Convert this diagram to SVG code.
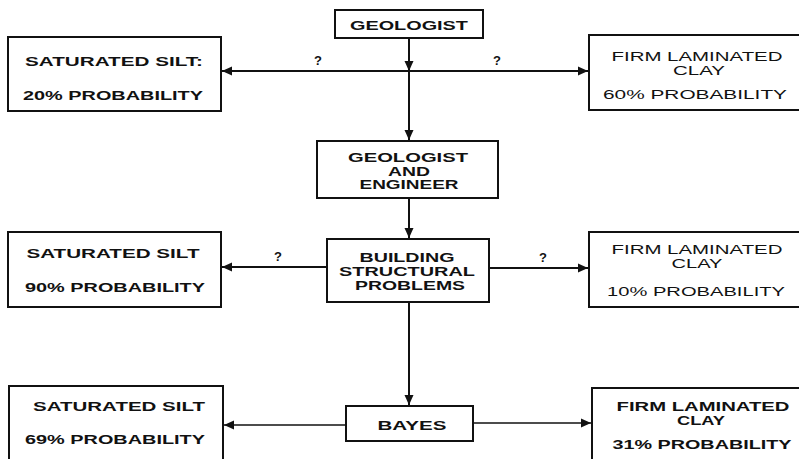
<svg xmlns="http://www.w3.org/2000/svg" width="799" height="459" viewBox="0 0 799 459">
<style>
.box{fill:#fff;stroke:#111;stroke-width:2}
.t{font-family:"Liberation Sans",Arial,sans-serif;font-size:13px;font-weight:bold;fill:#111;text-anchor:middle}
.r{font-weight:normal}
.c{fill:none;stroke:#111;stroke-width:2}
.thin{stroke-width:1.3}
.q{font-family:"Liberation Sans",Arial,sans-serif;font-size:13px;font-weight:bold;fill:#111;text-anchor:middle}
</style>
<defs>
<marker id="ah" markerUnits="userSpaceOnUse" markerWidth="10" markerHeight="10" viewBox="0 0 10 10" refX="10" refY="5" orient="auto">
<path d="M0,0.5 L10,5 L0,9.5 Z" fill="#111"/>
</marker>
</defs>
<g id="connectors">
<line class="c" x1="409" y1="38" x2="409" y2="71" marker-end="url(#ah)"/>
<line class="c" x1="409" y1="71" x2="409" y2="140" marker-end="url(#ah)"/>
<line class="c" x1="409" y1="71" x2="222" y2="71" marker-end="url(#ah)"/>
<line class="c" x1="409" y1="71" x2="588" y2="71" marker-end="url(#ah)"/>
<line class="c" x1="409" y1="198" x2="409" y2="238" marker-end="url(#ah)"/>
<line class="c" x1="327" y1="267" x2="222" y2="267" marker-end="url(#ah)"/>
<line class="c" x1="489" y1="268" x2="588" y2="268" marker-end="url(#ah)"/>
<line class="c" x1="409" y1="302" x2="409" y2="405" marker-end="url(#ah)"/>
<line class="c thin" x1="346" y1="425" x2="224" y2="425" marker-end="url(#ah)"/>
<line class="c thin" x1="473" y1="423" x2="591" y2="423" marker-end="url(#ah)"/>
<text class="q" x="318" y="65">?</text>
<text class="q" x="497" y="65">?</text>
<text class="q" x="278" y="261">?</text>
<text class="q" x="543" y="262">?</text>
</g>
<g id="geologist">
<rect class="box" x="335" y="10" width="148" height="28"/>
<text class="t" x="409" y="30" textLength="118" lengthAdjust="spacingAndGlyphs">GEOLOGIST</text>
</g>
<g id="silt20">
<rect class="box" x="8" y="37" width="213" height="74"/>
<text class="t" x="114" y="66" textLength="178" lengthAdjust="spacingAndGlyphs">SATURATED SILT:</text>
<text class="t" x="113" y="100" textLength="180" lengthAdjust="spacingAndGlyphs">20% PROBABILITY</text>
</g>
<g id="clay60">
<rect class="box" x="589" y="35" width="212" height="75"/>
<text class="t r" x="697" y="61" textLength="171" lengthAdjust="spacingAndGlyphs">FIRM LAMINATED</text>
<text class="t r" x="699" y="75" textLength="52" lengthAdjust="spacingAndGlyphs">CLAY</text>
<text class="t r" x="695" y="99" textLength="184" lengthAdjust="spacingAndGlyphs">60% PROBABILITY</text>
</g>
<g id="geoeng">
<rect class="box" x="317" y="141" width="181" height="57"/>
<text class="t" x="408" y="162" textLength="120" lengthAdjust="spacingAndGlyphs">GEOLOGIST</text>
<text class="t" x="409" y="175.5" textLength="42" lengthAdjust="spacingAndGlyphs">AND</text>
<text class="t" x="409" y="189" textLength="99" lengthAdjust="spacingAndGlyphs">ENGINEER</text>
</g>
<g id="building">
<rect class="box" x="327" y="239" width="162" height="63"/>
<text class="t" x="407" y="262" textLength="95" lengthAdjust="spacingAndGlyphs">BUILDING</text>
<text class="t" x="407" y="276" textLength="136" lengthAdjust="spacingAndGlyphs">STRUCTURAL</text>
<text class="t" x="410" y="290" textLength="110" lengthAdjust="spacingAndGlyphs">PROBLEMS</text>
</g>
<g id="silt90">
<rect class="box" x="8" y="232" width="213" height="75"/>
<text class="t" x="113" y="258" textLength="173" lengthAdjust="spacingAndGlyphs">SATURATED SILT</text>
<text class="t" x="115" y="292" textLength="180" lengthAdjust="spacingAndGlyphs">90% PROBABILITY</text>
</g>
<g id="clay10">
<rect class="box" x="589" y="232" width="212" height="75"/>
<text class="t r" x="697" y="254" textLength="171" lengthAdjust="spacingAndGlyphs">FIRM LAMINATED</text>
<text class="t r" x="697" y="268" textLength="51" lengthAdjust="spacingAndGlyphs">CLAY</text>
<text class="t r" x="696" y="296" textLength="178" lengthAdjust="spacingAndGlyphs">10% PROBABILITY</text>
</g>
<g id="bayes">
<rect class="box" x="346" y="406" width="127" height="35"/>
<text class="t" x="412" y="430" textLength="69" lengthAdjust="spacingAndGlyphs">BAYES</text>
</g>
<g id="silt69">
<rect class="box" x="9" y="386" width="214" height="80"/>
<text class="t" x="119" y="411" textLength="172" lengthAdjust="spacingAndGlyphs">SATURATED SILT</text>
<text class="t" x="115" y="444" textLength="180" lengthAdjust="spacingAndGlyphs">69% PROBABILITY</text>
</g>
<g id="clay31">
<rect class="box" x="592" y="388" width="212" height="80"/>
<text class="t" x="703" y="411" textLength="173" lengthAdjust="spacingAndGlyphs">FIRM LAMINATED</text>
<text class="t" x="701" y="425" textLength="48" lengthAdjust="spacingAndGlyphs">CLAY</text>
<text class="t" x="702" y="449" textLength="179" lengthAdjust="spacingAndGlyphs">31% PROBABILITY</text>
</g>
</svg>
